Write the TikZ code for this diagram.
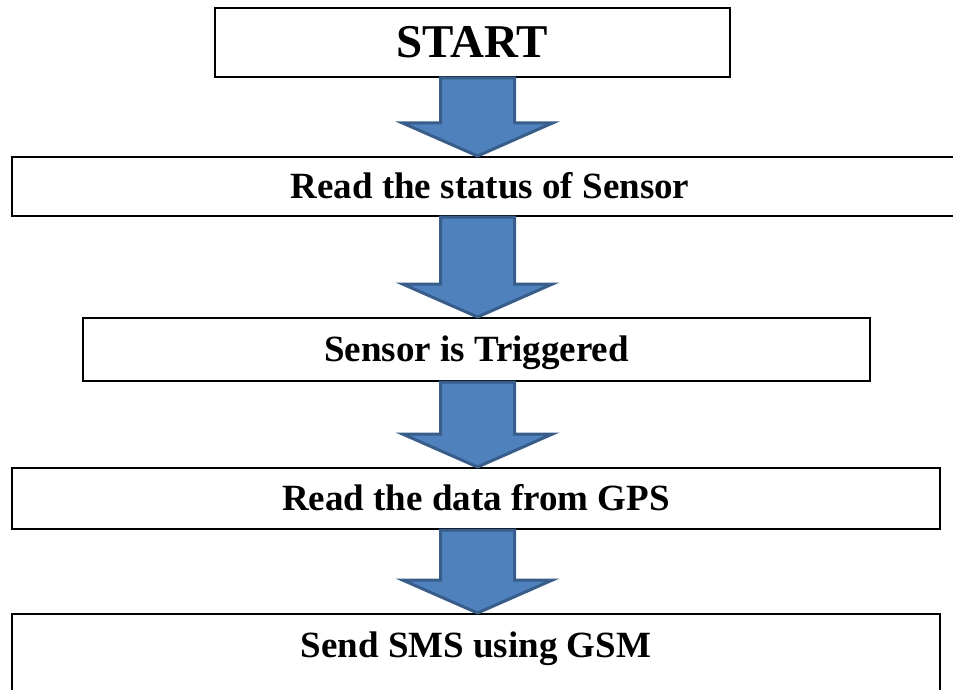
\documentclass[tikz,border=0pt]{standalone}
\usepackage{fontspec}
\setmainfont{Liberation Serif}
\usetikzlibrary{calc}
\definecolor{arrowfill}{HTML}{4F81BD}
\definecolor{arrowline}{HTML}{385D8A}
% block arrow from one box down to the next
\newcommand{\blockarrow}[2]{%
  \draw[barrow] let \p1 = (#1.south -| axis), \p2 = (#2.north -| axis) in
    (\x1-37pt,\y1) -- (\x1+37pt,\y1) -- (\x1+37pt,\y2+33pt) -- (\x1+75pt,\y2+33pt)
    -- (\x1,\y2) -- (\x1-75pt,\y2+33pt) -- (\x1-37pt,\y2+33pt) -- cycle;}
\begin{document}
\begin{tikzpicture}[x=1pt, y=-1pt,
    box/.style={draw, rectangle, line width=2pt, inner sep=0pt, text centered,
      text height=24.5pt, text depth=0pt, font=\bfseries\fontsize{37}{40}\selectfont},
    barrow/.style={fill=arrowfill, draw=arrowline, line width=3pt, line join=miter}]
    \useasboundingbox (0,0) rectangle (953,690);
    % nodes %
      \coordinate (axis) at (477.5,0);
      \node[box, minimum width=515, minimum height=69, text height=31pt,
        font=\bfseries\fontsize{47}{50}\selectfont] (start) at (472.5,42.5) {START};
      \node[box, minimum width=956, minimum height=59] (status) at (490,186.5) {Read the status of Sensor};
      \node[box, minimum width=787, minimum height=63] (trig) at (476.5,349.5) {Sensor is Triggered};
      \node[box, minimum width=928, minimum height=61] (gps) at (476,498.5) {Read the data from GPS};
      \node[box, minimum width=928, minimum height=116, text depth=54pt] (sms) at (476,672) {Send SMS using GSM};

    % edges %
      \blockarrow{start}{status}
      \blockarrow{status}{trig}
      \blockarrow{trig}{gps}
      \blockarrow{gps}{sms}
\end{tikzpicture}
\end{document}
